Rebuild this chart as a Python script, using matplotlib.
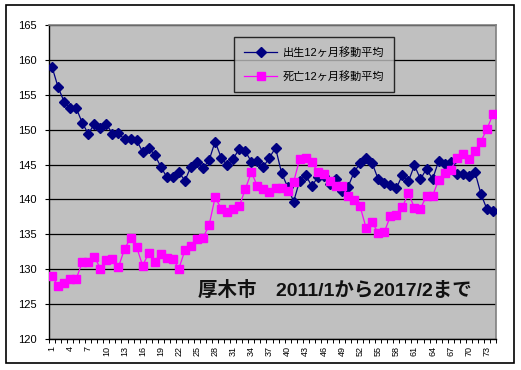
import matplotlib.pyplot as plt
import numpy as np
from matplotlib.patches import Rectangle

plt.rcParams['font.family'] = ['Liberation Sans', 'Noto Sans CJK JP']

# 12ヶ月移動平均 (厚木市 2011/1 - 2017/2)
months = list(range(1, 75))
births = [159.0, 156.1, 154.0, 153.1, 153.1, 151.0, 149.4, 150.8, 150.2, 150.8,
          149.4, 149.5, 148.6, 148.6, 148.5, 146.8, 147.4, 146.4, 144.7, 143.2,
          143.2, 143.9, 142.7, 144.7, 145.4, 144.5, 145.6, 148.3, 146.0, 144.9,
          145.8, 147.3, 146.9, 145.4, 145.5, 144.7, 146.0, 147.4, 143.8, 141.8,
          139.7, 142.7, 143.5, 141.9, 143.2, 143.3, 142.2, 143.0, 141.2, 141.8,
          143.9, 145.2, 146.0, 145.2, 142.9, 142.3, 142.0, 141.6, 143.5, 142.6,
          144.9, 142.9, 144.4, 142.9, 145.5, 145.1, 145.4, 143.6, 143.7, 143.4,
          144.0, 140.8, 138.6, 138.3]
deaths = [129.0, 127.6, 128.0, 128.6, 128.6, 131.0, 131.1, 131.8, 130.1, 131.3,
          131.4, 130.3, 132.9, 134.5, 133.2, 130.5, 132.3, 131.1, 132.2, 131.6,
          131.5, 130.1, 132.7, 133.3, 134.3, 134.5, 136.3, 140.3, 138.7, 138.2,
          138.6, 139.0, 141.5, 143.9, 141.9, 141.5, 141.0, 141.7, 141.6, 141.2,
          142.5, 145.8, 145.9, 145.3, 144.0, 143.7, 142.6, 141.9, 141.9, 140.5,
          139.9, 139.0, 135.9, 136.7, 135.2, 135.3, 137.6, 137.8, 138.9, 140.9,
          138.8, 138.7, 140.5, 140.5, 142.8, 143.8, 144.2, 145.9, 146.5, 145.8,
          146.9, 148.3, 150.1, 152.2]
xlabels = list(range(1, 75, 3))
yticks = list(range(120, 166, 5))
legend_names = ['出生12ヶ月移動平均', '死亡12ヶ月移動平均']
title_text = '厚木市　2011/1から2017/2まで'

fig = plt.figure(figsize=(5.21, 3.70), dpi=100)
ax = fig.add_axes([49 / 521, 1 - 339 / 370, 447 / 521, 314 / 370])
ax.set_facecolor('#C0C0C0')

ax.plot(months, births, '-', color='#000080', lw=0.9, marker='D', ms=4.8,
        label=legend_names[0], zorder=3)
ax.plot(months, deaths, '-', color='#FF00FF', lw=0.9, marker='s', ms=5.2,
        label=legend_names[1], zorder=4)

ax.set_xlim(0.5, 74.5)
ax.set_ylim(120, 165)
ax.set_yticks(yticks)
ax.set_yticklabels([str(v) for v in yticks], fontsize=8)
ax.yaxis.grid(True, color='black', lw=0.9)
ax.set_axisbelow(True)
ax.tick_params(axis='y', length=3, width=0.8, pad=6)

ax.set_xticks(xlabels)
ax.set_xticklabels([str(v) for v in xlabels], rotation=90, fontsize=6.5)
ax.set_xticks(np.arange(0.5, 75, 1), minor=True)
ax.tick_params(axis='x', which='major', length=0, pad=5)
ax.tick_params(axis='x', which='minor', length=3, width=0.7)

for s in ['top', 'right']:
    ax.spines[s].set_color('#808080')
    ax.spines[s].set_linewidth(1.2)
for s in ['left', 'bottom']:
    ax.spines[s].set_color('black')
    ax.spines[s].set_linewidth(1.0)

leg = ax.legend(loc='upper left', bbox_to_anchor=((234 - 49) / 447, 1 - (37 - 25) / 314),
                fontsize=8, frameon=True, fancybox=False, facecolor='#C0C0C0',
                edgecolor='black', borderpad=0.9, labelspacing=1.2, handlelength=3.0,
                handletextpad=0.5, borderaxespad=0)
leg.get_frame().set_linewidth(1.0)

ax.text(25.2, 127.0, title_text, fontsize=14, fontweight='bold', va='center',
        ha='left', color='#111111')

fig.patches.append(Rectangle((6 / 521, 1 - 363 / 370), 508 / 521, 358 / 370,
                             transform=fig.transFigure, fill=False,
                             edgecolor='black', lw=1.2))

fig.savefig('out.png', dpi=100, facecolor='white')
